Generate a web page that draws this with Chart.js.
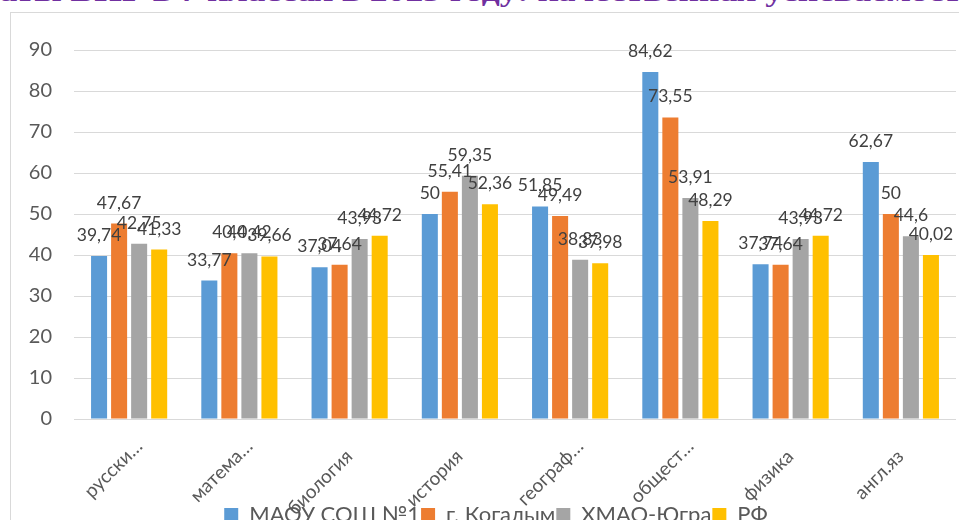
<!DOCTYPE html>
<html lang="ru">
<head>
<meta charset="utf-8">
<script src="https://cdn.jsdelivr.net/npm/chart.js@4.4.0/dist/chart.umd.min.js"></script>
<style>
  html, body { margin: 0; padding: 0; background: #fff; overflow: hidden; width: 959px; height: 520px; }
  #title { position: absolute; left: 0; top: -23px; white-space: nowrap; font: bold 28px "Liberation Serif", serif; line-height: 30px; color: #7030A0; transform-origin: 0 0; }
  #frame { position: absolute; left: 10px; top: 12px; width: 1000px; height: 600px; border: 1px solid #d9d9d9; box-sizing: border-box; }
  #wrap { position: absolute; left: 0; top: 0; width: 959px; height: 528px; }
</style>
</head>
<body>
<div id="title"><span id="pre">Результ</span>аты ВПР в 7 классах в 2023 году: качественная успеваемост<span id="tail">ь</span></div>
<div id="frame"></div>
<div id="wrap"><canvas id="chart"></canvas></div>
<script>
// ===== DATA =====
const CATEGORIES = ['русски…', 'матема…', 'биология', 'история', 'географ…', 'общест…', 'физика', 'англ.яз'];
const SERIES_NAMES = ['МАОУ СОШ №1', 'г. Когалым', 'ХМАО-Югра', 'РФ'];
const SCHOOL  = [39.74, 33.77, 37.04, 50, 51.85, 84.62, 37.74, 62.67];
const KOGALYM = [47.67, 40.4, 37.64, 55.41, 49.49, 73.55, 37.64, 50];
const HMAO    = [42.75, 40.42, 43.93, 59.35, 38.83, 53.91, 43.93, 44.6];
const RF      = [41.33, 39.66, 44.72, 52.36, 37.98, 48.29, 44.72, 40.02];
const Y_TICKS = [0, 10, 20, 30, 40, 50, 60, 70, 80, 90];

const COLORS = ['#5B9BD5', '#ED7D31', '#A5A5A5', '#FFC000'];
const FONT = 'Lato, "Open Sans", sans-serif';

// title is cut off by the top edge, as in the source picture
const title = document.getElementById('title');
const preEl = document.getElementById('pre');
const pre = preEl.offsetLeft + preEl.offsetWidth;
const tail = document.getElementById('tail').offsetLeft;
const k = 962 / (tail - pre);
title.style.transform = 'translateX(' + (-pre * k) + 'px) scaleX(' + k + ')';

// value with comma decimals
function fmt(v) {
  return String(v).replace('.', ',');
}

// labels above each bar
const valueLabels = {
  id: 'valueLabels',
  afterDatasetsDraw(chart) {
    const ctx = chart.ctx;
    ctx.save();
    ctx.font = '17.5px ' + FONT;
    ctx.fillStyle = '#404040';
    ctx.textAlign = 'center';
    ctx.textBaseline = 'alphabetic';
    chart.data.datasets.forEach((ds, i) => {
      chart.getDatasetMeta(i).data.forEach((bar, j) => {
        ctx.fillText(fmt(ds.data[j]), bar.x, bar.y - 15);
      });
    });
    ctx.restore();
  }
};

// slanted category labels run down into the legend row (no clipping);
// the legend sits a bit lower and to the right, cut by the window edge
const layoutTweak = {
  id: 'layoutTweak',
  afterLayout(chart) {
    chart.scales.x.bottom = chart.height;
    const lg = chart.legend;
    lg.top += 8; lg.bottom += 8;
    lg.left += 18; lg.right += 18;
  }
};

const seriesData = [SCHOOL, KOGALYM, HMAO, RF];

new Chart(document.getElementById('chart'), {
  type: 'bar',
  data: {
    labels: CATEGORIES,
    datasets: seriesData.map((d, i) => ({
      label: SERIES_NAMES[i],
      data: d,
      backgroundColor: COLORS[i],
      categoryPercentage: 0.727,
      barPercentage: 0.8
    }))
  },
  options: {
    responsive: true,
    maintainAspectRatio: false,
    animation: false,
    layout: { padding: { top: 50, right: 3, left: 0, bottom: 0 } },
    plugins: {
      legend: {
        position: 'bottom',
        labels: { boxWidth: 14, boxHeight: 14, padding: 1, color: '#595959', font: { family: FONT, size: 22 } }
      },
      tooltip: { enabled: false }
    },
    scales: {
      y: {
        min: 0,
        max: 90,
        afterBuildTicks: s => { s.ticks = Y_TICKS.map(v => ({ value: v })); },
        afterFit: s => { s.width = 74; },
        ticks: { color: '#595959', padding: 22, font: { family: FONT, size: 20 } },
        grid: { color: '#d9d9d9', drawTicks: false },
        border: { display: false }
      },
      x: {
        afterFit: s => { s.height = s.chart.height - s.chart.legend.height - 419; },
        ticks: {
          color: '#595959', minRotation: 45, maxRotation: 45, autoSkip: false, padding: 8, labelOffset: 10,
          font: { family: FONT, size: 19 },
          // full names sit a little lower than the shortened ones
          callback: (v, i) => CATEGORIES[i].endsWith('…') ? CATEGORIES[i] : CATEGORIES[i] + '   '
        },
        grid: { display: false },
        border: { display: false }
      }
    }
  },
  plugins: [valueLabels, layoutTweak]
});
</script>
</body>
</html>
